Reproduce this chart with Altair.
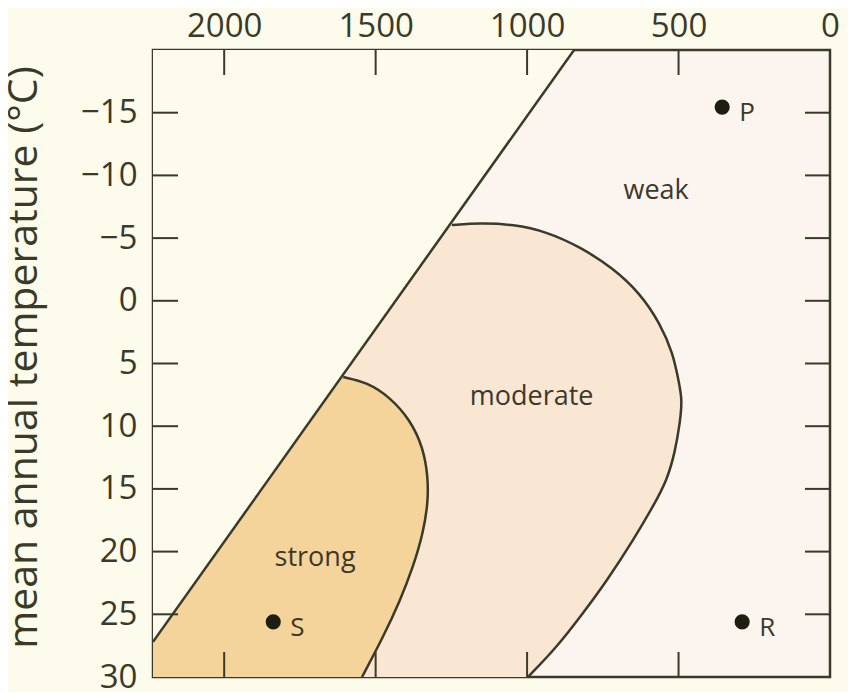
import altair as alt
import pandas as pd

# ---- data ----
X_MAX = 2235  # left end of the (reversed) precipitation axis
T_MIN, T_MAX = -20, 30
x_tick_values = [2000, 1500, 1000, 500, 0]
x_inner_ticks = [2000, 1500, 1000, 500]
y_tick_values = [-15, -10, -5, 0, 5, 10, 15, 20, 25, 30]
y_inner_ticks = [-15, -10, -5, 0, 5, 10, 15, 20, 25]

# boundary between the arid (left) and humid part
diag_mm = [845, 2235]
diag_t = [-20, 27.2]

# moderate weathering boundary
moderate_mm = [1248, 1155, 1046, 934, 825, 716, 627, 561, 518, 498, 488, 495,
               512, 538, 584, 650, 736, 815, 901, 997]
moderate_t = [-6.04, -6.2, -6.1, -5.5, -4.3, -2.6, -0.6, 1.8, 4.2, 6.6, 7.9, 9.7,
              12.1, 14.3, 16.4, 19.1, 22.3, 24.9, 27.6, 30.0]

# strong weathering boundary
strong_mm = [1607, 1528, 1452, 1386, 1343, 1327, 1327, 1343, 1376, 1419, 1475, 1545]
strong_t = [6.08, 6.5, 7.7, 9.5, 11.7, 14.05, 16.1, 18.5, 21.2, 23.9, 26.8, 30.0]

point_names = ["P", "R", "S"]
point_mm = [356, 290, 1838]
point_t = [-15.45, 25.6, 25.6]

region_names = ["weak", "moderate", "strong"]
region_mm = [574, 985, 1700]
region_t = [-8.75, 7.7, 20.5]

# ---- styling ----
W, H = 677, 627
TL = 25
INK = "#3a3a28"
FONT = "Open Sans"
C_CREAM = "#fdfbec"
C_WEAK = "#fcf4ef"
C_MOD = "#f9e7d4"
C_STRONG = "#f5d49c"

xs = alt.Scale(domain=[0, X_MAX], reverse=True, nice=False, zero=False)
ys = alt.Scale(domain=[T_MIN, T_MAX], reverse=True, nice=False, zero=False)


def boundary(mm, t):
    return pd.DataFrame({"mm": mm, "t": t, "i": list(range(len(mm)))})


def polygon(mm, t, closing):
    # boundary curve closed along the plot's left edge (hidden under the arid area)
    cm = list(mm) + [c[0] for c in closing]
    ct = list(t) + [c[1] for c in closing]
    return boundary(cm, ct)


diag = boundary(diag_mm, diag_t)
mod = boundary(moderate_mm, moderate_t)
stg = boundary(strong_mm, strong_t)

cream_poly = polygon(diag_mm, diag_t, [(X_MAX, T_MIN)])
mod_poly = polygon(moderate_mm, moderate_t, [(X_MAX, T_MAX), (X_MAX, moderate_t[0])])
stg_poly = polygon(strong_mm, strong_t, [(X_MAX, T_MAX), (X_MAX, strong_t[0])])

pts = pd.DataFrame({"mm": point_mm, "t": point_t, "name": point_names})
regs = pd.DataFrame({"mm": region_mm, "t": region_t, "name": region_names})
xt = pd.DataFrame({"v": x_inner_ticks})
yt = pd.DataFrame({"v": y_inner_ticks})

X = alt.X("mm:Q", scale=xs,
          axis=alt.Axis(orient="top", values=x_tick_values, ticks=False, domain=False,
                        grid=False, labelFontSize=33, labelPadding=7, labelFlush=False,
                        labelOverlap=False, labelColor=INK, labelFont=FONT, format="d",
                        title=None))
Y = alt.Y("t:Q", scale=ys,
          axis=alt.Axis(orient="left", values=y_tick_values, ticks=False, domain=False,
                        grid=False, labelFontSize=33, labelPadding=16, labelFlush=False,
                        labelOverlap=False, labelColor=INK, labelFont=FONT,
                        title="mean annual temperature (°C)", titleFontSize=41,
                        titleFontWeight="normal", titleColor=INK, titleFont=FONT,
                        titleAngle=-90, titleX=-129, titleY=307, titleAlign="center",
                        titleBaseline="middle"))

order = alt.Order("i:Q")


def region_fill(df, color, first=False):
    return alt.Chart(df).mark_line(filled=True, fill=color, strokeWidth=0,
                                   clip=True, opacity=1).encode(
        x=X if first else alt.X("mm:Q"),
        y=Y if first else alt.Y("t:Q"), order=order)


mod_area = region_fill(mod_poly, C_MOD, first=True)
stg_area = region_fill(stg_poly, C_STRONG)
cream_area = region_fill(cream_poly, C_CREAM)

mod_line = alt.Chart(mod).mark_line(color=INK, strokeWidth=2.5, clip=True,
                                    interpolate="basis").encode(
    x="mm:Q", y="t:Q", order=order)
stg_line = alt.Chart(stg).mark_line(color=INK, strokeWidth=2.5, clip=True,
                                    interpolate="basis").encode(
    x="mm:Q", y="t:Q", order=order)
diag_line = alt.Chart(diag).mark_line(color=INK, strokeWidth=2.5, clip=True).encode(
    x="mm:Q", y="t:Q", order=order)

tick_style = dict(color=INK, strokeWidth=2)
top_ticks = alt.Chart(xt).mark_rule(**tick_style).encode(
    x="v:Q", y=alt.value(0), y2=alt.value(TL))
bot_ticks = alt.Chart(xt).mark_rule(**tick_style).encode(
    x="v:Q", y=alt.value(H - TL), y2=alt.value(H))
left_ticks = alt.Chart(yt).mark_rule(**tick_style).encode(
    y="v:Q", x=alt.value(0), x2=alt.value(TL))
right_ticks = alt.Chart(yt).mark_rule(**tick_style).encode(
    y="v:Q", x=alt.value(W - TL), x2=alt.value(W))

dots = alt.Chart(pts).mark_circle(size=230, opacity=1, color="#1d1d12").encode(
    x="mm:Q", y="t:Q")
dot_labels = alt.Chart(pts).mark_text(align="left", baseline="middle", dx=17, dy=6,
                                      fontSize=26, font=FONT, color=INK).encode(
    x="mm:Q", y="t:Q", text="name:N")
reg_labels = alt.Chart(regs).mark_text(align="center", baseline="middle",
                                       fontSize=27, font=FONT, fontWeight=500,
                                       color="#3d382c").encode(
    x="mm:Q", y="t:Q", text="name:N")

chart = alt.layer(
    mod_area, stg_area, cream_area,
    mod_line, stg_line, diag_line,
    top_ticks, bot_ticks, left_ticks, right_ticks,
    dots, dot_labels, reg_labels,
).properties(
    width=W, height=H,
    background=C_CREAM,
    padding={"left": 145, "top": 42, "right": 18, "bottom": 15},
    autosize=alt.AutoSizeParams(type="none"),
).configure_view(
    fill=C_WEAK, stroke=INK, strokeWidth=2.5
)

chart.save("out.html", embed_options={"renderer": "svg", "actions": False})
